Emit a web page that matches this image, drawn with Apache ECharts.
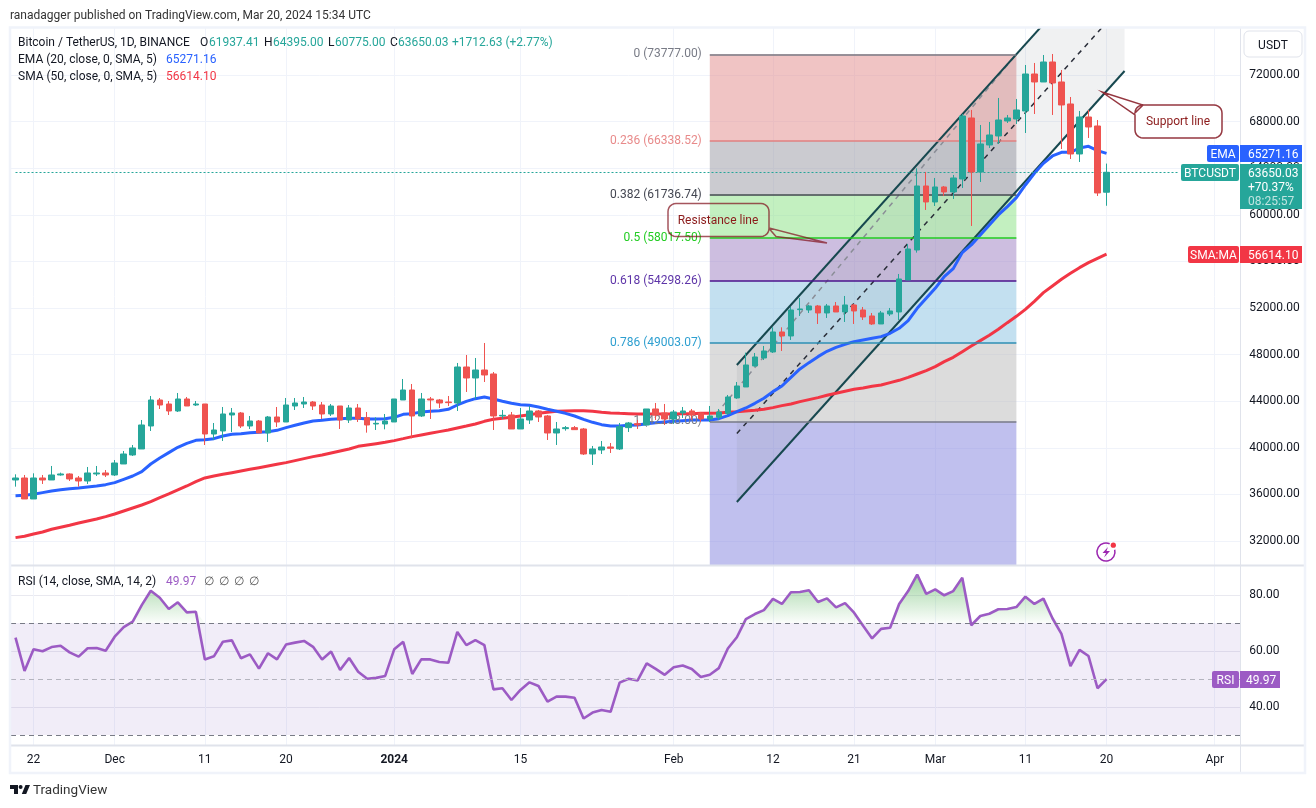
<!DOCTYPE html>
<html><head><meta charset="utf-8">
<style>html,body{margin:0;padding:0;background:#fff}#c{width:1316px;height:808px}</style>
<script src="https://cdn.jsdelivr.net/npm/echarts@6/dist/echarts.min.js"></script>
</head><body><div id="c"></div>
<script>
const opens=[37236,37407,35605,37407,37236,37665,37751,37407,37150,37751,
37837,37665,38610,39382,39897,41871,44102,43759,43158,44188,
43673,43759,41184,41442,42815,42987,41871,42300,41270,42643,
42214,43587,43759,43931,43673,42901,43587,42386,43416,42587,
42043,42043,42215,44103,44961,42730,44189,44103,43931,43845,
46935,45991,46678,46335,42730,42816,41614,42387,43159,42730,
41270,41643,41729,41614,39468,39811,40069,39897,41729,42072,
41957,43331,42987,42472,42987,43159,42987,42472,42615,42959,
44276,45220,47023,47709,48224,49941,49597,51858,51829,52172,
51572,52172,51658,52258,51829,51314,50627,51486,51658,54404,
56980,62473,61100,62388,61959,63074,68310,63675,65993,66765,
68053,68224,68911,72086,71400,73116,71400,69512,65220,68396,
67623,61937];
const closes=[37407,35605,37407,37236,37665,37751,37322,37150,37837,37837,
37665,38695,39467,39983,41957,44102,43673,43158,44188,43587,
43759,41184,41527,42901,42987,41871,42300,41270,42643,42214,
43673,43845,43931,43587,42901,43587,42386,43416,42472,41957,
42100,42300,44189,44961,42730,44189,44103,43845,43874,46935,
45991,46678,46249,42730,42787,41614,42472,43159,42644,41270,
41614,41729,41557,39468,39897,40069,39955,41814,42129,41957,
43331,42816,42472,43073,43159,42816,42472,42730,43073,44361,
45306,47108,47795,48310,49941,49597,51829,51915,52172,51572,
52172,51658,52258,51743,51228,50627,51572,51743,54490,57064,
62473,61100,62388,61959,63160,68482,63675,66078,66851,68138,
68310,68997,72086,71400,73116,71314,69426,65220,68396,67537,
61873,63650];
const lows=[36664,35605,35605,36893,37236,37608,37150,36664,36893,37579,
37493,37579,38610,39296,39897,41442,43330,42815,43072,43587,
43587,40240,40669,40583,41356,41699,41613,41270,40497,41785,
42214,43244,43416,43244,42472,42729,41613,42128,42214,41299,
41528,41585,42215,44103,40813,42644,42472,43416,43588,43159,
44790,44189,45648,41528,42472,41614,41614,42043,42215,40670,
40241,41471,41528,39382,38524,39468,39554,39811,41356,41614,
41957,42386,41957,42043,42558,42386,42215,42215,42386,42816,
44200,45220,46965,47537,48138,48310,49254,51314,51572,50627,
51142,51658,50799,50627,50971,50541,50627,51314,50971,54404,
56752,60414,60757,61615,61358,62302,59041,62817,65735,66078,
67881,67795,67022,68653,71400,68568,65649,64791,64534,66593,
61615,60775];
const highs=[37722,37665,37808,37665,38438,37865,37808,37579,38352,38438,
38094,38952,39725,40240,42386,44446,44274,44016,44703,44360,
44016,43759,42128,43501,43416,43072,42729,42386,42729,43501,
44274,44274,44360,44016,43931,43759,43587,43673,43759,43073,
42615,42901,44189,45905,45476,44704,44361,44189,44446,47279,
47965,47708,48995,46506,43245,43073,43416,43588,43245,42816,
42215,41871,41871,41700,40155,40584,40412,42129,42215,42386,
43331,43846,43760,43245,43502,43331,43073,43588,43331,44533,
45649,48167,48138,48739,50341,50341,52087,52859,52258,52258,
52344,52515,53031,52344,52087,51572,51743,52001,54919,57494,
63990,63675,63160,62473,63418,68653,69000,67709,67967,70027,
68568,69941,72859,73031,73717,73803,72430,70112,68911,68997,
68138,64395];
const ema20=[35891,35920,36006,36149,36292,36406,36492,36549,36635,36721,
36835,37007,37293,37579,37951,38609,39124,39582,40040,40383,
40640,40698,40783,41012,41155,41213,41298,41327,41384,41499,
41728,41928,42128,42300,42357,42443,42500,42529,42529,42472,
42472,42501,42615,42873,42930,43073,43130,43187,43302,43674,
43988,44217,44360,44189,43988,43817,43702,43645,43502,43302,
43130,42958,42730,42444,42186,41985,41871,41871,41929,41957,
42072,42157,42215,42272,42329,42387,42387,42387,42501,42758,
43103,43417,43818,44247,44819,45306,46050,46765,47309,47823,
48281,48625,48882,49111,49254,49397,49540,49826,50256,50914,
51972,52830,53689,54690,55378,56752,57409,58268,59127,59984,
60700,61472,62559,63561,64419,65048,65363,65363,65735,65878,
65506,65271];
const sma50=[32287,32401,32601,32773,33002,33173,33345,33545,33717,33889,
34089,34318,34575,34833,35090,35376,35720,36034,36377,36721,
37093,37408,37579,37722,37865,38008,38151,38294,38437,38581,
38724,38895,39067,39239,39381,39553,39725,39897,40126,40241,
40355,40469,40613,40784,40956,41099,41242,41385,41528,41700,
41871,42043,42272,42444,42530,42615,42730,42844,42958,43044,
43130,43159,43187,43187,43130,43044,42987,42958,42930,42901,
42901,42901,42901,42901,42930,42930,42958,42958,42987,43044,
43100,43160,43230,43303,43446,43618,43761,43961,44133,44304,
44504,44676,44848,45019,45135,45278,45392,45592,45792,46050,
46336,46622,46965,47394,47765,48252,48738,49196,49654,50169,
50741,51284,51885,52572,53316,53888,54460,54975,55461,55890,
56262,56614];
const rsi14=[64.8,52.9,60.6,59.9,61.4,61.9,59.5,58.0,61.0,61.1,
60.1,65.1,68.5,70.5,76.4,81.5,79.0,75.0,77.4,73.8,
74.0,57.0,58.1,63.3,63.8,57.4,58.8,53.7,59.2,57.0,
62.3,63.0,63.6,61.5,57.0,59.8,53.2,57.5,52.6,50.1,
50.4,51.1,60.6,63.3,51.8,57.0,57.0,56.1,55.8,66.8,
62.1,63.9,62.1,46.3,46.7,42.5,46.1,48.8,47.5,41.9,
43.7,43.7,43.3,35.9,38.0,38.9,38.3,48.7,50.1,49.5,
55.6,53.6,51.5,54.2,54.8,53.6,50.7,51.5,53.9,60.9,
64.9,71.4,73.2,74.6,78.6,76.8,81.0,81.1,81.7,77.5,
78.8,75.6,77.1,73.7,69.0,64.5,67.9,68.3,76.8,81.4,
87.3,80.4,82.0,79.9,81.4,86.2,69.2,72.5,73.3,74.9,
75.0,75.7,79.4,76.8,78.7,71.7,66.1,54.6,60.4,58.2,
46.7,49.97];

const monthDays=[['Nov',20,30],['Dec',1,31],['Jan',1,31],['Feb',1,29],['Mar',1,31],['Apr',1,4]];
const categories=[];
monthDays.forEach(([m,a,b])=>{for(let d=a;d<=b;d++)categories.push(m+' '+d);});
const tickIndex=[2,11,21,30,42,56,73,84,93,102,112,121,133];
const tickLabels=['22','Dec','11','20','2024','15','Feb','12','21','Mar','11','20','Apr'];
const priceTicks=[32000,36000,40000,44000,48000,52000,56000,60000,64000,68000,72000];
const rsiTicks=[40,60,80];
const fibRatios=['0','0.236','0.382','0.5','0.618','0.786','1'];
const fibLevels=[73777,66338.52,61736.74,58017.5,54298.26,49003.07,42258];
const fibLineColors=['#787B86','#E08080','#434651','#22CC22','#4A148C','#2E8FB5','#787B86'];
const fibLabelColors=['#787B86','#E88A8A','#434651','#22CC22','#5E35A8','#2E9FD0','#787B86'];
const fibFill=['rgba(225,137,137,.5)','rgba(151,151,161,.5)','rgba(135,225,129,.5)','rgba(155,125,193,.5)','rgba(135,193,225,.5)','rgba(185,185,185,.5)','rgba(129,129,221,.5)'];
const fibX=[77,111];
const channelX=[80,123];
const channelUpper=[47106,84103];
const channelMid=[41226,78223];
const channelLower=[35346,72343];
const lastPrice=63650.03;
const priceMin=29938,priceMax=76034,rsiMin=26.43,rsiMax=90.36;

const FONT='Roboto, "Noto Sans", sans-serif';
const chart=echarts.init(document.getElementById('c'),null,{renderer:'canvas'});
const UP='#26A69A',DOWN='#EF5350',BLUE='#2962FF',RED='#F23645',PURPLE='#9C5BC4',INK='#131722',GRID='#F0F3FA',SEP='#E0E3EB';

const tickSet=new Set(tickIndex);
function txt(x,y,text,color,opt){return {type:'text',z:110,x:x,y:y+1,silent:true,style:Object.assign({text:text,fill:color||INK,font:'12px '+FONT,textVerticalAlign:'middle'},opt||{})};}
function box(x,y,w,h,color,r){return {type:'rect',z:105,silent:true,shape:{x:x,y:y,width:w,height:h,r:r||0},style:{fill:color}};}
function hline(x1,y1,x2,y2,c,w){return {type:'line',z:104,silent:true,shape:{x1:x1,y1:y1,x2:x2,y2:y2},style:{stroke:c,lineWidth:w||1}};}
function poly(points,style,z){return {type:'polygon',z:z||90,silent:true,shape:{points:points},style:style};}
function corner(cx,cy,r,a0){const p=[];for(let k=0;k<=6;k++){const a=a0+k/6*Math.PI/2;p.push([cx+r*Math.cos(a),cy+r*Math.sin(a)]);}return p;}
function note(x0,y0,x1,y1,r,tail){
 return [].concat(corner(x0+r,y0+r,r,Math.PI),tail.top||[],corner(x1-r,y0+r,r,-Math.PI/2),tail.right||[],corner(x1-r,y1-r,r,0),tail.bottom||[],corner(x0+r,y1-r,r,Math.PI/2),tail.left||[]);
}

const graphics=[
 {type:'rect',z:60,silent:true,shape:{x:1241,y:28,width:6,height:717},style:{fill:'#fff'}},
 hline(10,565.5,1305,565.5,SEP,2),hline(10,745.5,1305,745.5,SEP,2),hline(1240.5,28,1240.5,773,SEP,1),
 {type:'rect',z:104,silent:true,shape:{x:10,y:27.5,width:1295,height:745.5},style:{fill:'none',stroke:GRID,lineWidth:2.5}},
 txt(10,14.5,'ranadagger published on TradingView.com, Mar 20, 2024 15:34 UTC','#333'),
 txt(18,41.5,'Bitcoin / TetherUS, 1D, BINANCE'),
 txt(200,41.5,'O'),txt(209,41.5,'61937.41',UP),txt(264,41.5,'H'),txt(273,41.5,'64395.00',UP),
 txt(328,41.5,'L'),txt(335,41.5,'60775.00',UP),txt(390,41.5,'C'),txt(398,41.5,'63650.03',UP),txt(452,41.5,'+1712.63 (+2.77%)',UP),
 txt(18,58.5,'EMA (20, close, 0, SMA, 5)'),txt(166,58.5,'65271.16',BLUE),
 txt(18,75.5,'SMA (50, close, 0, SMA, 5)'),txt(166,75.5,'56614.10',RED),
 txt(18,580.5,'RSI (14, close, SMA, 14, 2)'),txt(166,580.5,'49.97',PURPLE),
 txt(204,580.5,'∅','#555'),txt(219,580.5,'∅','#555'),txt(234,580.5,'∅','#555'),txt(249,580.5,'∅','#555'),
 {type:'rect',z:105,silent:true,shape:{x:1244,y:31,width:58,height:26,r:5},style:{fill:'#fff',stroke:SEP,lineWidth:1}},
 txt(1273,44.5,'USDT',INK,{textAlign:'center'}),
 box(1207,145,32,17,BLUE,2),box(1240,145,62,17,BLUE),
 txt(1223,154,'EMA','#fff',{textAlign:'center'}),txt(1248,154,'65271.16','#fff'),
 box(1181,164,58,17,UP,2),box(1240,164,62,45,UP),
 txt(1210,173,'BTCUSDT','#fff',{textAlign:'center'}),txt(1248,173,'63650.03','#fff'),
 txt(1248,187,'+70.37%','#fff'),txt(1248,201,'08:25:57','#BFE5E1'),
 box(1188,246,51,17,RED,2),box(1240,246,62,17,RED),
 txt(1213.5,255,'SMA:MA','#fff',{textAlign:'center'}),txt(1248,255,'56614.10','#fff'),
 box(1212,671,27,17,PURPLE,2),box(1240,671,40,17,PURPLE),
 txt(1225.5,680,'RSI','#fff',{textAlign:'center'}),txt(1246,680,'49.97','#fff'),
 poly(note(668,203.5,769,236.5,8,{right:[[769,228],[827,243],[776,236.5]]}),{fill:'rgba(255,255,255,0)',stroke:'rgba(130,20,30,.72)',lineWidth:1.5}),
 txt(718,220,'Resistance line','#8B1A1A',{textAlign:'center'}),
 poly(note(1135,105,1222,138,8,{left:[[1135,115],[1102,92],[1143,105]]}),{fill:'#fff',stroke:'rgba(130,20,30,.85)',lineWidth:1.5}),
 txt(1178,121,'Support line','#8B1A1A',{textAlign:'center'}),
 {type:'arc',z:90,silent:true,shape:{cx:1106,cy:552,r:9,startAngle:-0.25,endAngle:-1.15,clockwise:true},style:{fill:'none',stroke:'#9C27B0',lineWidth:1.5}},
 poly([[1108,547],[1102.5,553],[1106,553],[1104,557.5],[1110,551],[1106.5,551]],{fill:'#9C27B0'}),
 {type:'circle',z:91,silent:true,shape:{cx:1113.3,cy:545.2,r:2.6},style:{fill:'#F23645'}},
 poly([[10,785],[18,785],[18,794],[14,794],[14,789],[10,789]],{fill:INK}),
 {type:'circle',z:90,silent:true,shape:{cx:20.6,cy:787,r:2},style:{fill:INK}},
 poly([[25.5,785],[30,785],[26.2,794],[21.8,794]],{fill:INK}),
 txt(33,789.5,'TradingView','#333',{font:'13.5px '+FONT})
];

const grids=[{left:11,top:28,width:1235.3,height:537},{left:11,top:566,width:1235.3,height:179}];
const splitX={show:true,alignWithLabel:true,interval:(i)=>tickSet.has(i),lineStyle:{color:GRID,width:1}};
const xAxes=[
 {type:'category',gridIndex:0,data:categories,boundaryGap:true,axisLine:{show:false},axisTick:{show:false},axisLabel:{show:false},splitLine:splitX},
 {type:'category',gridIndex:1,data:categories,boundaryGap:true,axisLine:{show:false},axisTick:{show:false},splitLine:splitX,
  axisLabel:{show:true,margin:9,interval:(i)=>tickSet.has(i),hideOverlap:false,fontFamily:FONT,fontSize:12,color:INK,
   formatter:(v,i)=>{const k=tickIndex.indexOf(i);const s=k>=0?tickLabels[k]:'';return s==='2024'?'{b|2024}':s;},rich:{b:{fontWeight:'bold',fontSize:12,fontFamily:FONT,color:INK}}}}
];
const yAxes=[
 {type:'value',gridIndex:0,position:'right',min:priceMin,max:priceMax,scale:true,axisLine:{show:false},axisTick:{show:false,customValues:priceTicks},
  axisLabel:{customValues:priceTicks,margin:3,padding:[3,0,0,0],fontFamily:FONT,fontSize:12,color:INK,formatter:v=>v.toFixed(2)},splitLine:{show:true,lineStyle:{color:GRID,width:1}}},
 {type:'value',gridIndex:1,position:'right',min:rsiMin,max:rsiMax,scale:true,axisLine:{show:false},axisTick:{show:false,customValues:rsiTicks},
  axisLabel:{customValues:rsiTicks,margin:3,padding:[3,0,0,0],fontFamily:FONT,fontSize:12,color:INK,formatter:v=>v.toFixed(2)},splitLine:{show:true,lineStyle:{color:'#E9E9F0',width:1}}}
];

const fibAreas=fibLevels.map((v,i)=>{const next=i<fibLevels.length-1?fibLevels[i+1]:priceMin;
 return [{coord:[fibX[0],v],itemStyle:{color:fibFill[i]}},{coord:[fibX[1],next]}];});
const fibLines=fibLevels.map((v,i)=>[
 {coord:[fibX[0],v],lineStyle:{color:fibLineColors[i],width:1.5,type:'solid'},
  label:{show:true,position:'start',distance:8,padding:[2,0,0,0],formatter:fibRatios[i]+' ('+v.toFixed(2)+')',color:fibLabelColors[i],fontFamily:FONT,fontSize:12}},
 {coord:[fibX[1],v]}]);

const series=[
 {name:'fib',type:'line',xAxisIndex:0,yAxisIndex:0,data:[],z:1,silent:true,
  markArea:{silent:true,data:fibAreas},markLine:{silent:true,symbol:['none','none'],data:fibLines}},
 {name:'channelShade',type:'custom',xAxisIndex:0,yAxisIndex:0,z:2,clip:true,silent:true,
  data:[[channelX[0],channelUpper[0],channelX[1],channelUpper[1],channelLower[1],channelLower[0]]],encode:{x:[0,2],y:[1,3,4,5]},
  renderItem:(p,api)=>{const pts=[[api.value(0),api.value(1)],[api.value(2),api.value(3)],[api.value(2),api.value(4)],[api.value(0),api.value(5)]].map(c=>api.coord(c));
   return {type:'polygon',shape:{points:pts},style:{fill:'rgba(120,123,134,0.11)'}};}},
 {name:'fibTrend',type:'line',xAxisIndex:0,yAxisIndex:0,data:[[fibX[0],fibLevels[6]],[fibX[1],fibLevels[0]]],z:2,symbol:'none',lineStyle:{color:'#8A8D96',width:1.5,type:[5,5]}},
 {name:'upper',type:'line',xAxisIndex:0,yAxisIndex:0,data:[[channelX[0],channelUpper[0]],[channelX[1],channelUpper[1]]],z:3,symbol:'none',lineStyle:{color:'#17484F',width:2}},
 {name:'mid',type:'line',xAxisIndex:0,yAxisIndex:0,data:[[channelX[0],channelMid[0]],[channelX[1],channelMid[1]]],z:3,symbol:'none',lineStyle:{color:'#2A2E39',width:1.5,type:[5,5]}},
 {name:'lower',type:'line',xAxisIndex:0,yAxisIndex:0,data:[[channelX[0],channelLower[0]],[channelX[1],channelLower[1]]],z:3,symbol:'none',lineStyle:{color:'#17484F',width:2}},
 {name:'last',type:'line',xAxisIndex:0,yAxisIndex:0,data:[],z:3,markLine:{silent:true,symbol:['none','none'],label:{show:false},
   data:[[{coord:[0,lastPrice],lineStyle:{color:UP,type:[2,2],width:1}},{coord:[129.3,lastPrice]}]]}},
 {name:'SMA',type:'line',xAxisIndex:0,yAxisIndex:0,data:sma50,z:4,symbol:'none',lineStyle:{color:RED,width:3}},
 {name:'EMA',type:'line',xAxisIndex:0,yAxisIndex:0,data:ema20,z:4,symbol:'none',lineStyle:{color:BLUE,width:3}},
 {name:'BTCUSDT',type:'candlestick',xAxisIndex:0,yAxisIndex:0,z:5,barWidth:6,
  data:opens.map((o,i)=>[o,closes[i],lows[i],highs[i]]),
  itemStyle:{color:UP,color0:DOWN,borderColor:UP,borderColor0:DOWN,borderWidth:1}},
 {name:'rsiBand',type:'line',xAxisIndex:1,yAxisIndex:1,data:[],z:1,silent:true,
  markArea:{silent:true,itemStyle:{color:'rgba(126,87,194,0.11)'},data:[[{yAxis:70},{yAxis:30}]]},
  markLine:{silent:true,symbol:['none','none'],label:{show:false},
   data:[{yAxis:70,lineStyle:{color:'#787B86',type:[5,4],width:1.2}},{yAxis:50,lineStyle:{color:'#B4B4BE',type:[5,4],width:1.2}},{yAxis:30,lineStyle:{color:'#787B86',type:[5,4],width:1.2}}]}},
 {name:'rsiFill',type:'line',xAxisIndex:1,yAxisIndex:1,data:rsi14.map(v=>Math.max(v,70)),z:2,symbol:'none',lineStyle:{width:0},
  areaStyle:{origin:70,color:new echarts.graphic.LinearGradient(0,0,0,1,[{offset:0,color:'rgba(76,175,80,0.75)'},{offset:1,color:'rgba(76,175,80,0.03)'}])}},
 {name:'RSI',type:'line',xAxisIndex:1,yAxisIndex:1,data:rsi14,z:3,symbol:'none',lineStyle:{color:PURPLE,width:2.6}}
];

chart.setOption({animation:false,backgroundColor:'#fff',grid:grids,xAxis:xAxes,yAxis:yAxes,series:series,graphic:{elements:graphics}});
</script></body></html>
